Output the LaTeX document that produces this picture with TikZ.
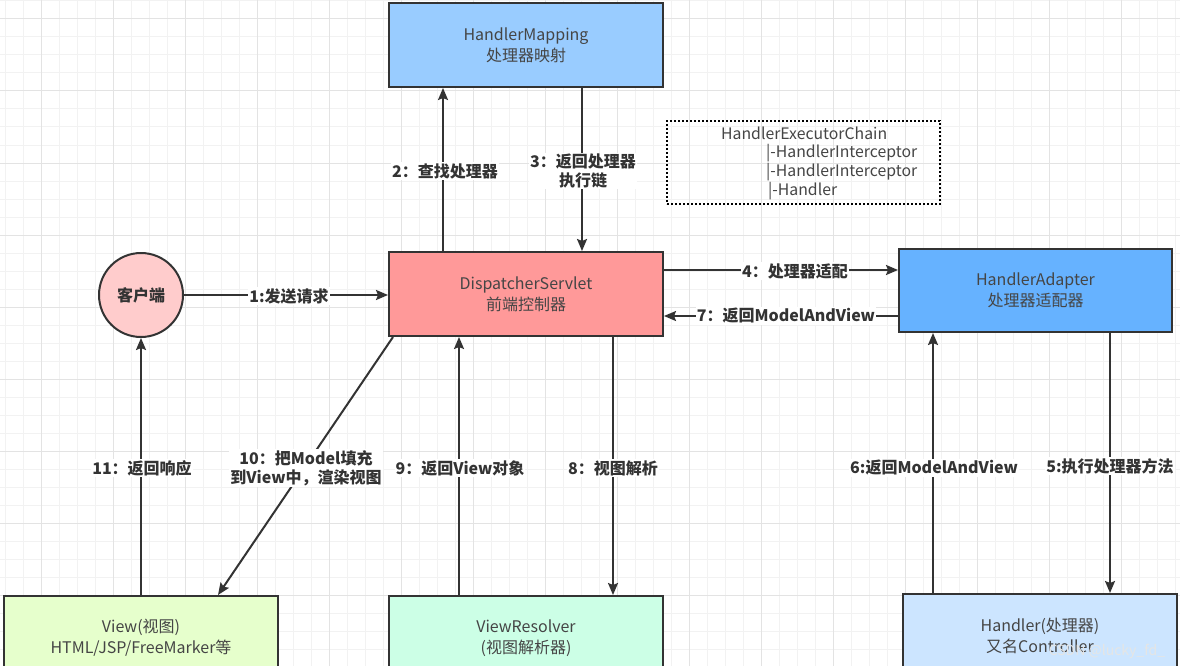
\documentclass[tikz,border=0pt]{standalone}
\usepackage{fontspec}
\setmainfont{Noto Sans CJK SC}
\usetikzlibrary{arrows.meta}
\definecolor{ln}{HTML}{333333}
\definecolor{txt}{HTML}{454545}
\definecolor{gminor}{HTML}{F2F2F2}
\definecolor{gmajor}{HTML}{E3E3E3}
\definecolor{hmfill}{HTML}{99CCFF}
\definecolor{dsfill}{HTML}{FF9999}
\definecolor{hafill}{HTML}{66B2FF}
\definecolor{clfill}{HTML}{FFCCCC}
\definecolor{vwfill}{HTML}{E6FFCC}
\definecolor{vrfill}{HTML}{CCFFE6}
\definecolor{hdfill}{HTML}{CCE5FF}
\tikzset{
  box/.style={draw=ln, line width=2pt, minimum width=274pt, minimum height=84pt,
    text=txt, align=center, font=\fontsize{16pt}{21pt}\selectfont, inner sep=0pt},
  arr/.style={draw=ln, line width=2pt, -{Stealth[length=12pt,width=10pt,inset=2pt]}},
  lbl/.style={fill=white, text=ln, align=center, inner sep=1pt,
    font=\bfseries\fontsize{16pt}{19pt}\selectfont},
  chain/.style={text=txt, anchor=west, inner sep=0pt, font=\fontsize{15.8pt}{19pt}\selectfont}
}
\begin{document}
\begin{tikzpicture}[x=1pt,y=-1pt]
\useasboundingbox (0,0) rectangle (1180,666);
\clip (0,0) rectangle (1180,666);
\fill[white] (0,0) rectangle (1180,666);
% grid
\foreach \x in {5,23,...,1180} \draw[gminor, line width=1pt] (\x,0) -- (\x,666);
\foreach \y in {1,19,...,666} \draw[gminor, line width=1pt] (0,\y) -- (1180,\y);
\foreach \x in {41,113,...,1180} \draw[gmajor, line width=1pt] (\x,0) -- (\x,666);
\foreach \y in {19,91,...,666} \draw[gmajor, line width=1pt] (0,\y) -- (1180,\y);

% nodes
\node[box, fill=hmfill] (hm) at (526,45) {HandlerMapping\\处理器映射};
\node[box, fill=dsfill] (ds) at (526,294) {DispatcherServlet\\前端控制器};
\node[box, fill=hafill, minimum width=273pt, minimum height=83pt] (ha) at (1035.5,290.5) {HandlerAdapter\\处理器适配器};
\node[circle, draw=ln, line width=2pt, fill=clfill, minimum size=84pt, inner sep=0pt,
  text=ln, font=\bfseries\fontsize{16pt}{19pt}\selectfont] (cl) at (141,295) {客户端};
\node[box, fill=vwfill] (vw) at (141,638) {View(视图)\\HTML/JSP/FreeMarker等};
\node[box, fill=vrfill] (vr) at (526,638) {ViewResolver\\(视图解析器)};
\node[box, fill=hdfill] (hd) at (1040,636) {Handler(处理器)\\又名Controller};

% dotted chain box
\node[draw=black, dotted, line width=2pt, minimum width=273pt, minimum height=83pt] (hec) at (803.5,162.5) {};
\node[chain] (c1) at (721,133) {HandlerExecutorChain};
\node[chain] (c2) at (766,153) {|-HandlerInterceptor};
\node[chain] (c3) at (766,172) {|-HandlerInterceptor};
\node[chain] (c4) at (768,191) {|-Handler};

% connectors
\draw[arr] (cl.east) -- (cl.east -| ds.west);
\draw[arr] ([xshift=-83pt]ds.north) -- ([xshift=-83pt]hm.south);
\draw[arr] ([xshift=56pt]hm.south) -- ([xshift=56pt]ds.north);
\draw[arr] ([yshift=24pt]ds.east) -- ([yshift=24pt]ds.east -| ha.west);
\draw[arr] ([yshift=-22pt]ds.east -| ha.west) -- ([yshift=-22pt]ds.east);
\draw[arr] ([xshift=-107pt]hd.north) -- ([xshift=-107pt]hd.north |- ha.south);
\draw[arr] ([xshift=74.5pt]ha.south) -- ([xshift=74.5pt]ha.south |- hd.north);
\draw[arr] ([xshift=87pt]ds.south) -- ([xshift=87pt]ds.south |- vr.north);
\draw[arr] ([xshift=-67pt]vr.north) -- ([xshift=-67pt]vr.north |- ds.south);
\draw[arr] ([xshift=-133pt]ds.south) -- ([xshift=77pt]vw.north);
\draw[arr] (vw.north) -- (cl.south);

% labels
\node[lbl] (l1) at (289,296) {1:发送请求};
\node[lbl] (l2) at (445,171) {2：查找处理器};
\node[lbl] (l3) at (583,171) {3：返回处理器\\执行链};
\node[lbl] (l4) at (795,271) {4：处理器适配};
\node[lbl] (l7) at (786,316) {7：返回ModelAndView};
\node[lbl] (l6) at (934,468) {6:返回ModelAndView};
\node[lbl] (l5) at (1110,466) {5:执行处理器方法};
\node[lbl] (l8) at (613,468) {8：视图解析};
\node[lbl] (l9) at (460,468) {9：返回View对象};
\node[lbl] (l10) at (306,468) {10：把Model填充\\到View中，渲染视图};
\node[lbl] (l11) at (142,468) {11：返回响应};

% watermark
\node[text=white!80!gray, inner sep=0pt, font=\fontsize{14pt}{16pt}\selectfont] (wm) at (1107,651) {CSDN @lucky\_fd\_};
\end{tikzpicture}
\end{document}
